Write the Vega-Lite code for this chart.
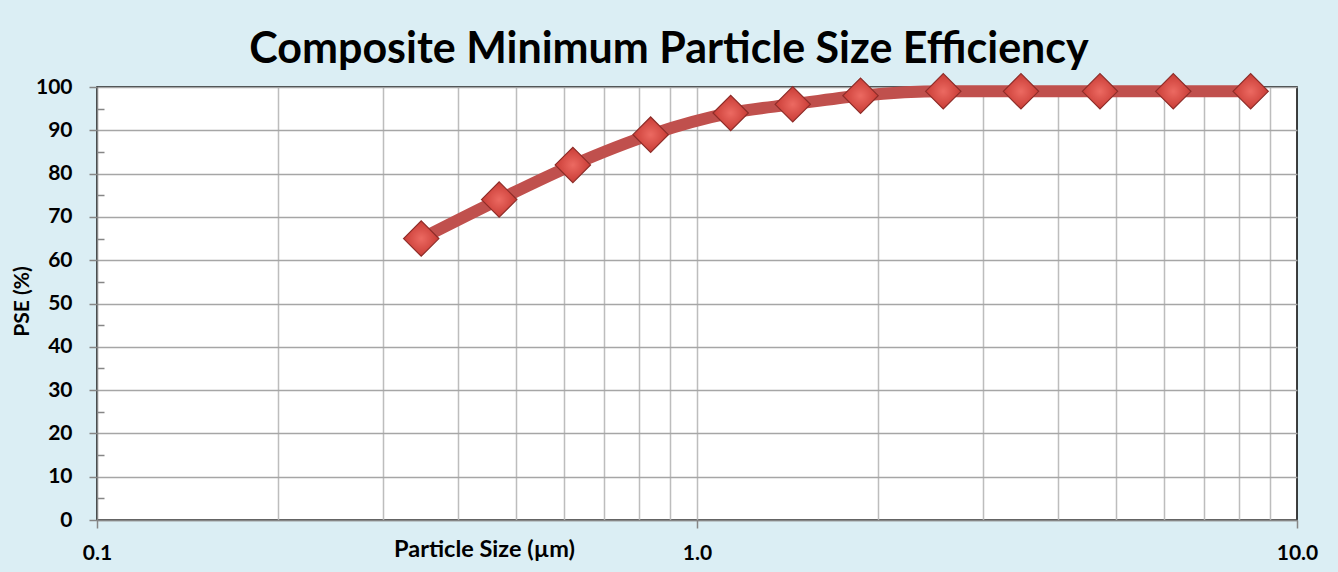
{
  "$schema": "https://vega.github.io/schema/vega-lite/v6.json",
  "autosize": "none",
  "width": 1200,
  "height": 433,
  "padding": {"left": 97, "top": 87, "right": 41, "bottom": 52},
  "background": "#DBEEF4",
  "config": {
    "view": {"fill": "white", "stroke": "black", "strokeWidth": 1.5},
    "font": "Lato"
  },
  "title": {
    "text": "Composite Minimum Particle Size Efficiency",
    "font": "Lato",
    "fontSize": 43,
    "fontWeight": "bold",
    "color": "black",
    "anchor": "middle",
    "dx": -28,
    "dy": 59,
    "offset": 20,
    "baseline": "alphabetic"
  },
  "data": {
    "values": [
      {"size": 0.347, "pse": 65},
      {"size": 0.468, "pse": 74},
      {"size": 0.621, "pse": 82},
      {"size": 0.837, "pse": 89},
      {"size": 1.138, "pse": 94},
      {"size": 1.444, "pse": 96},
      {"size": 1.873, "pse": 98},
      {"size": 2.573, "pse": 99},
      {"size": 3.467, "pse": 99},
      {"size": 4.695, "pse": 99},
      {"size": 6.22, "pse": 99},
      {"size": 8.37, "pse": 99}
    ]
  },
  "layer": [
    {
      "mark": {"type": "line", "color": "#C0504D", "strokeWidth": 12, "interpolate": "monotone"},
      "encoding": {
        "x": {
          "field": "size", "type": "quantitative",
          "scale": {"type": "log", "domain": [0.1, 10], "nice": false},
          "axis": {
            "orient": "bottom",
            "values": [0.2, 0.3, 0.4, 0.5, 0.6, 0.7, 0.8, 0.9, 1, 2, 3, 4, 5, 6, 7, 8, 9],
            "grid": true, "gridColor": "#BDBDBD", "gridWidth": 1.5,
            "labels": false, "ticks": false, "domain": false, "title": null
          }
        },
        "y": {
          "field": "pse", "type": "quantitative",
          "scale": {"domain": [0, 100], "nice": false},
          "axis": {
            "orient": "left",
            "values": [0, 10, 20, 30, 40, 50, 60, 70, 80, 90, 100],
            "grid": true, "gridColor": "#A6A6A6", "gridWidth": 1.5,
            "domainColor": "#868686", "domainWidth": 1.5,
            "tickColor": "#868686", "tickSize": 8, "tickWidth": 1.5,
            "labelFont": "Lato", "labelFontSize": 21, "labelFontWeight": "bold", "labelColor": "black",
            "labelPadding": 17,
            "title": "PSE (%)", "titleFont": "Lato", "titleFontSize": 21, "titleFontWeight": "bold", "titleColor": "black",
            "titleX": -69, "titleY": 214, "titleAngle": -90, "titleAlign": "center", "titleBaseline": "alphabetic"
          }
        }
      }
    },
    {
      "mark": {
        "type": "point", "shape": "diamond", "size": 1250, "filled": true, "opacity": 1,
        "fill": {
          "gradient": "radial", "x1": 0.5, "y1": 0.5, "x2": 0.5, "y2": 0.5, "r1": 0, "r2": 0.6,
          "stops": [{"offset": 0, "color": "#EC6A62"}, {"offset": 1, "color": "#C2332D"}]
        },
        "stroke": "#8E2C28", "strokeWidth": 1.2
      },
      "encoding": {
        "x": {
          "field": "size", "type": "quantitative",
          "scale": {"type": "log", "domain": [0.1, 10], "nice": false},
          "axis": {
            "orient": "bottom",
            "values": [0.1, 1, 10], "format": ".1f", "grid": false,
            "domainColor": "#868686", "domainWidth": 1.5,
            "tickColor": "#868686", "tickSize": 8, "tickWidth": 1.5,
            "labelFont": "Lato", "labelFontSize": 21, "labelFontWeight": "bold", "labelColor": "black",
            "labelPadding": 14, "labelFlush": false,
            "title": "Particle Size (µm)", "titleFont": "Lato", "titleFontSize": 23.5, "titleFontWeight": "bold", "titleColor": "black",
            "titleX": 387, "titleY": 36, "titleAlign": "center", "titleAnchor": null, "titleBaseline": "alphabetic"
          }
        },
        "y": {
          "field": "pse", "type": "quantitative",
          "scale": {"domain": [0, 100], "nice": false},
          "axis": {
            "orient": "left",
            "values": [5, 15, 25, 35, 45, 55, 65, 75, 85, 95],
            "grid": false, "labels": false, "domain": false,
            "tickColor": "#868686", "tickSize": -7, "tickWidth": 1.5,
            "title": null
          }
        }
      }
    }
  ],
  "resolve": {"scale": {"x": "independent", "y": "independent"}}
}
